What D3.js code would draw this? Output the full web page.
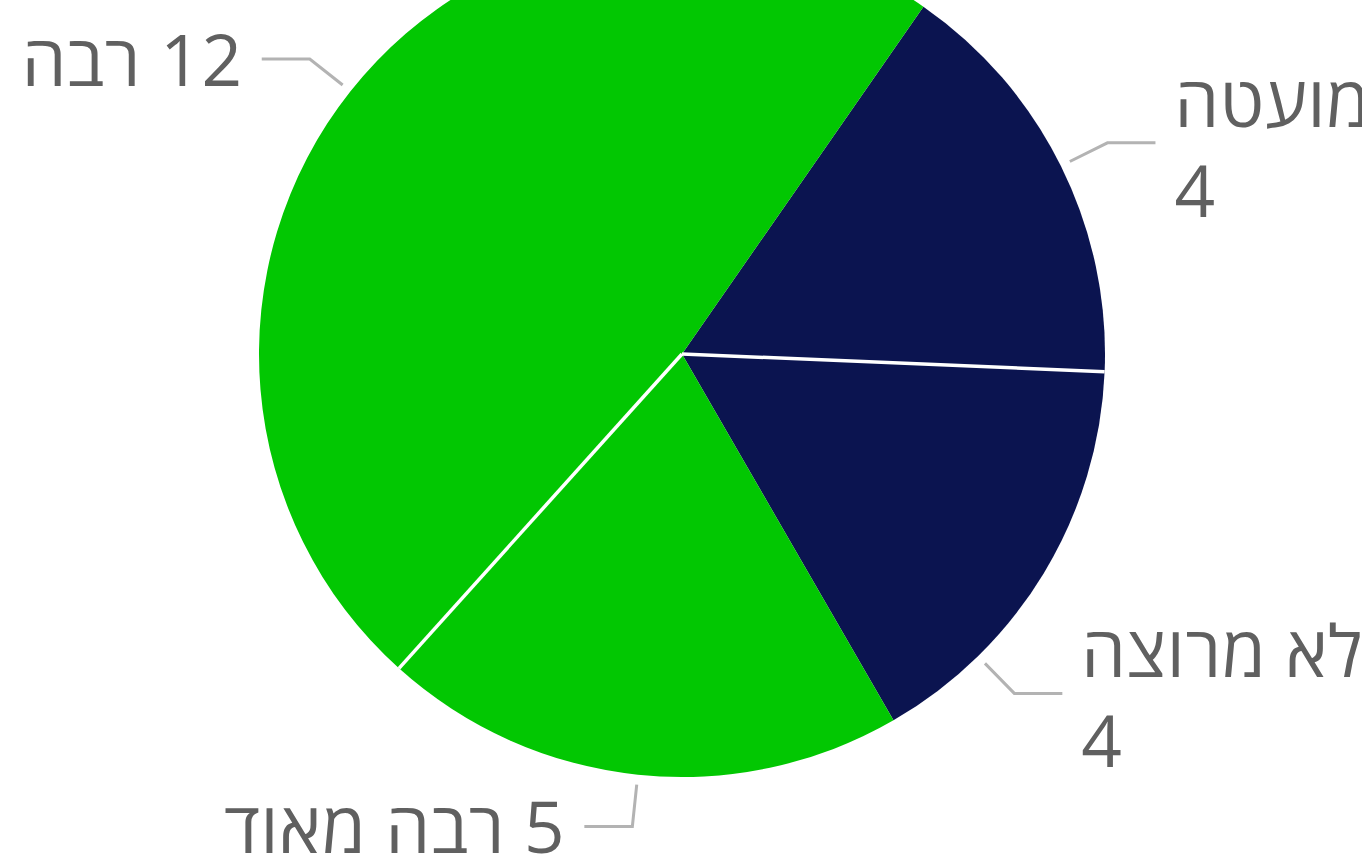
<!DOCTYPE html>
<html><head><meta charset="utf-8">
<script src="https://cdn.jsdelivr.net/npm/d3@7"></script>
<style>html,body{margin:0;padding:0;background:#fff;overflow:hidden}svg{display:block}</style>
</head><body>
<svg id="chart" width="1362" height="859"></svg>
<script>
// ---- data ----
const categories = ["רבה", "מועטה", "לא מרוצה", "רבה מאוד"];
const values = [12, 4, 4, 5];
const colors = ["#02c702", "#0b1450", "#0b1450", "#02c702"];
// drawing order (clockwise from start angle)
const order = [1, 2, 3, 0];

// ---- layout / style ----
const W = 1362, H = 859;
const cx = 682, cy = 354, R = 423;
const startDeg = 34.8;
const labelShiftDeg = {2: 14.4};   // label pushed down (overlap avoidance)
const twoLine = {1: true, 2: true};

const svg = d3.select("#chart");
const g = svg.append("g").attr("transform", `translate(${cx},${cy})`);

const pie = d3.pie().sort(null).value(i => values[i])
  .startAngle(startDeg * Math.PI / 180)
  .endAngle(startDeg * Math.PI / 180 + 2 * Math.PI);
const arcs = pie(order);
const arc = d3.arc().innerRadius(0).outerRadius(R);

g.selectAll("path.slice").data(arcs).join("path")
  .attr("class", "slice")
  .attr("d", arc)
  .attr("fill", d => colors[d.data]);

// white separators between same-coloured neighbours
arcs.forEach((d, k) => {
  const prev = arcs[(k - 1 + arcs.length) % arcs.length];
  if (colors[prev.data] === colors[d.data]) {
    const a = d.startAngle;
    g.append("line")
      .attr("x1", 0).attr("y1", 0)
      .attr("x2", R * Math.sin(a)).attr("y2", -R * Math.cos(a))
      .attr("stroke", "#fff").attr("stroke-width", 3.5);
  }
});

// labels with connectors
const fontSize = 71, lineH = 90;
const LRM = "\u200E";
arcs.forEach(d => {
  const i = d.data;
  let a = (d.startAngle + d.endAngle) / 2 + (labelShiftDeg[i] || 0) * Math.PI / 180;
  const s = Math.sin(a), c = Math.cos(a);
  const right = s >= 0;
  const dir = right ? 1 : -1;
  const p0 = [(R + 10) * s, -(R + 10) * c];
  const p1 = [(R + 52) * s, -(R + 52) * c];
  const p2 = [p1[0] + dir * 48, p1[1]];
  g.append("path")
    .attr("d", d3.line()([p0, p1, p2]))
    .attr("fill", "none").attr("stroke", "#b3b3b3").attr("stroke-width", 3);
  const tx = p2[0] + dir * 19;
  const t = g.append("text")
    .attr("x", tx)
    .attr("direction", "ltr")
    .attr("text-anchor", right ? "start" : "end")
    .attr("font-family", "'Open Sans', 'DejaVu Sans', sans-serif")
    .attr("font-size", fontSize)
    .attr("letter-spacing", 0.7)
    .attr("fill", "#606060");
  if (twoLine[i]) {
    t.append("tspan").attr("x", tx).attr("y", p2[1] - 16).text(LRM + categories[i]);
    t.append("tspan").attr("x", tx).attr("y", p2[1] - 16 + lineH).text(LRM + values[i]);
  } else {
    t.attr("y", p2[1] + 27).text(LRM + categories[i] + " " + LRM + values[i]);
  }
});
</script>
</body></html>
